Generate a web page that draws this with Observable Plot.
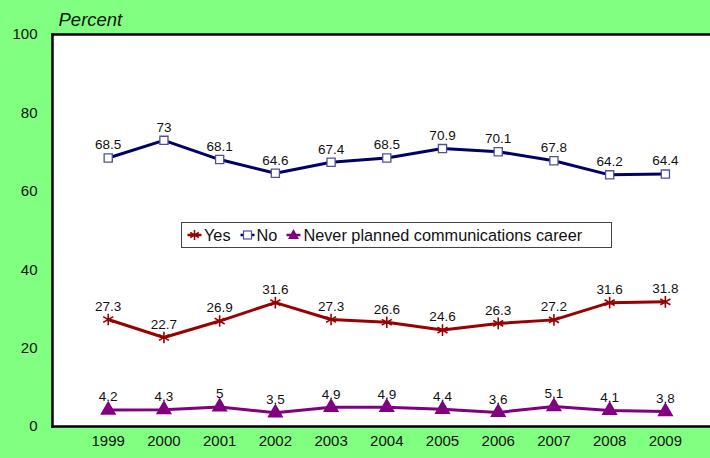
<!DOCTYPE html>
<html>
<head>
<meta charset="utf-8">
<script src="https://cdn.jsdelivr.net/npm/d3@7"></script>
<script src="https://cdn.jsdelivr.net/npm/@observablehq/plot@0.6"></script>
<style>
  html, body { margin: 0; padding: 0; background: #80FF80; }
  #wrap { position: relative; width: 710px; height: 458px; overflow: hidden; font-family: "Liberation Sans", Arial, sans-serif; }
  #legend { position: absolute; left: 181px; top: 222px; width: 431px; height: 26px; background: #fff; border: 1px solid #444; box-sizing: border-box; display: flex; align-items: center; font-size: 16.3px; color: #111; padding-left: 5px; }
  #legend .item { display: flex; align-items: center; margin-right: 9px; }
  #legend svg { margin-right: 2px; }
</style>
</head>
<body>
<div id="wrap"></div>
<script>
const years = [1999, 2000, 2001, 2002, 2003, 2004, 2005, 2006, 2007, 2008, 2009];
const yesValues = [27.3, 22.7, 26.9, 31.6, 27.3, 26.6, 24.6, 26.3, 27.2, 31.6, 31.8];
const noValues = [68.5, 73, 68.1, 64.6, 67.4, 68.5, 70.9, 70.1, 67.8, 64.2, 64.4];
const neverValues = [4.2, 4.3, 5, 3.5, 4.9, 4.9, 4.4, 3.6, 5.1, 4.1, 3.8];
const seriesNames = ["Yes", "No", "Never planned communications career"];
const yTicks = [0, 20, 40, 60, 80, 100];

const colors = {Yes: "#990000", No: "#000066", Never: "#800080"};

const toRows = (vals) => years.map((y, i) => ({year: y, value: vals[i]}));
const yes = toRows(yesValues), no = toRows(noValues), never = toRows(neverValues);

const lbl = {fontSize: 13.5, fill: "#111", dy: -13, fontFamily: "Liberation Sans, Arial, sans-serif"};

const chart = Plot.plot({
  width: 710,
  height: 458,
  marginTop: 34,
  marginBottom: 32,
  marginLeft: 52,
  marginRight: 0,
  style: {background: "#80FF80", fontFamily: "Liberation Sans, Arial, sans-serif", fontSize: "14px", color: "#111"},
  x: {type: "linear", domain: [1998, 2009.81], ticks: years, tickFormat: d => String(d), tickSize: 0, tickPadding: 9, label: null},
  y: {domain: [0, 100], ticks: yTicks, tickSize: 0, tickPadding: 15, label: null},
  marks: [
    Plot.frame({fill: "white", stroke: null}),
    Plot.frame({anchor: "left", stroke: "black", strokeWidth: 2.5}),
    Plot.frame({anchor: "top", stroke: "black", strokeWidth: 2.5}),
    Plot.frame({anchor: "bottom", stroke: "black", strokeWidth: 2.5}),
    Plot.axisX({ticks: years, tickFormat: d => String(d), tickSize: 0, tickPadding: 9, fontSize: 15, label: null}),
    Plot.axisY({ticks: yTicks, tickSize: 0, tickPadding: 15, fontSize: 15, label: null}),
    Plot.text(["Percent"], {frameAnchor: "top-left", dx: 6, dy: -22, textAnchor: "start", fontStyle: "italic", fontSize: 18.5, fill: "#111"}),
    // No
    Plot.line(no, {x: "year", y: "value", stroke: colors.No, strokeWidth: 3}),
    Plot.dot(no, {x: "year", y: "value", symbol: "square", r: 4.6, stroke: "#50509a", strokeWidth: 1.3, fill: "white"}),
    Plot.text(no, {x: "year", y: "value", text: d => String(d.value), ...lbl}),
    // Yes
    Plot.line(yes, {x: "year", y: "value", stroke: colors.Yes, strokeWidth: 3}),
    Plot.dot(yes, {x: "year", y: "value", symbol: "asterisk", r: 5.5, stroke: colors.Yes, strokeWidth: 1.6}),
    Plot.text(yes, {x: "year", y: "value", text: d => String(d.value), ...lbl}),
    // Never
    Plot.line(never, {x: "year", y: "value", stroke: colors.Never, strokeWidth: 3}),
    Plot.dot(never, {x: "year", y: "value", symbol: "triangle", r: 6, fill: colors.Never, stroke: "none"}),
    Plot.text(never, {x: "year", y: "value", text: d => String(d.value), ...lbl})
  ]
});

const wrap = document.getElementById("wrap");
wrap.appendChild(chart);

// Legend
const legend = document.createElement("div");
legend.id = "legend";
const sym = {
  Yes: `<line x1="0" y1="8" x2="14" y2="8" stroke="${colors.Yes}" stroke-width="2.5"/><g stroke="${colors.Yes}" stroke-width="1.5"><line x1="7" y1="3" x2="7" y2="13"/><line x1="2.7" y1="5.5" x2="11.3" y2="10.5"/><line x1="2.7" y1="10.5" x2="11.3" y2="5.5"/></g>`,
  No: `<line x1="0" y1="8" x2="14" y2="8" stroke="${colors.No}" stroke-width="2.5"/><rect x="3" y="4" width="8" height="8" fill="white" stroke="#50509a" stroke-width="1.2"/>`,
  Never: `<line x1="0" y1="8" x2="14" y2="8" stroke="${colors.Never}" stroke-width="2.5"/><path d="M7,2 L12.5,12 L1.5,12 Z" fill="${colors.Never}"/>`
};
const keys = ["Yes", "No", "Never"];
keys.forEach((k, i) => {
  const item = document.createElement("div");
  item.className = "item";
  item.innerHTML = `<svg width="15" height="16" viewBox="0 0 14 16">${sym[k]}</svg><span>${seriesNames[i]}</span>`;
  legend.appendChild(item);
});
wrap.appendChild(legend);
</script>
</body>
</html>
